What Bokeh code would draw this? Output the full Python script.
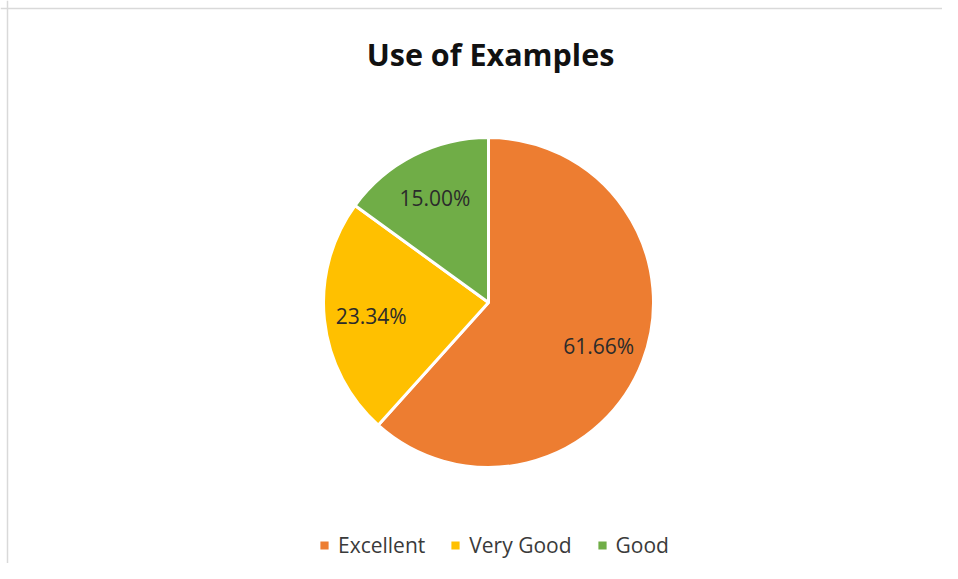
import numpy as np
from bokeh.plotting import figure
from bokeh.models import ColumnDataSource, Range1d, Legend, LegendItem, Span
from bokeh.core.properties import value
from bokeh.embed import file_html
from bokeh.resources import INLINE

# ---- data ----
title_text = "Use of Examples"
categories = ["Excellent", "Very Good", "Good"]
percentages = [61.66, 23.34, 15.00]
colors = ["#ED7D31", "#FFC000", "#70AD47"]

FONT = "Open Sans"
W, H = 942, 563
# data x = picture x, data y = 579 - picture y
p = figure(width=W, height=H, output_backend="svg", toolbar_location=None,
           x_range=Range1d(0, W), y_range=Range1d(579 - H, 579),
           min_border=0)
p.axis.visible = False
p.grid.visible = False
p.outline_line_color = None
p.background_fill_color = "white"
p.border_fill_color = "white"

# light chart border (top and left)
p.add_layout(Span(location=579 - 8, dimension="width", line_color="#d9d9d9", line_width=1.5))
p.add_layout(Span(location=7, dimension="height", line_color="#d9d9d9", line_width=1.5))

# ---- pie ----
cx, cy, r = 488, 579 - 302, 165
vals = np.array(percentages, dtype=float)
fr = vals / vals.sum()
cum = np.concatenate([[0], np.cumsum(fr)[:-1]])
start = np.pi / 2 - 2 * np.pi * cum
end = start - 2 * np.pi * fr
mid = (start + end) / 2

src = ColumnDataSource(dict(cat=categories, val=vals, start=start, end=end,
                            color=colors,
                            lx=cx + 0.715 * r * np.cos(mid),
                            ly=cy + 0.715 * r * np.sin(mid) - 1,
                            lab=[f"{v:.2f}%" for v in vals]))

wr = p.wedge(x=cx, y=cy, radius=r, start_angle="start", end_angle="end",
             direction="clock", fill_color="color", line_color="white",
             line_width=3, source=src)

p.text(x="lx", y="ly", text="lab", source=src, text_align="center",
       text_baseline="middle", text_font=value(FONT), text_font_size="21px",
       text_color="#2b2b2b")

# ---- title ----
p.text(x=[cx + 2], y=[579 - 53], text=[title_text], text_align="center",
       text_baseline="alphabetic", text_font=value(FONT),
       text_font_size="30.5px", text_font_style="bold", text_color="#111111")

# ---- legend ----
items = [LegendItem(label=c, renderers=[wr], index=i) for i, c in enumerate(categories)]
legend = Legend(items=items, orientation="horizontal", location=(317, 4),
                glyph_width=14, glyph_height=14, label_standoff=7, spacing=23,
                padding=0, margin=0, border_line_color=None,
                background_fill_alpha=0, label_text_font=FONT,
                label_text_font_size="21px", label_text_color="#3a3a3a",
                label_height=20)
p.add_layout(legend)

open("out.html", "w").write(file_html(p, INLINE))
